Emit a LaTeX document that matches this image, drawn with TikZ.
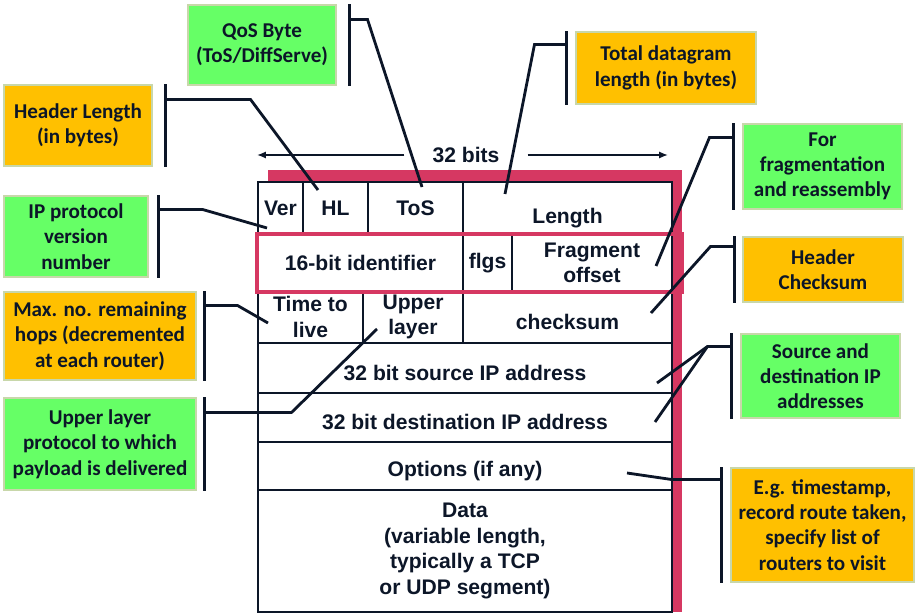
\documentclass[tikz,border=0pt]{standalone}
\usepackage{fontspec}
\setmainfont{Liberation Sans}
\newfontfamily\notefont{Carlito}
\usetikzlibrary{arrows.meta,positioning}
\definecolor{ipink}{RGB}{214,56,98}
\definecolor{igreen}{RGB}{102,255,102}
\definecolor{iorange}{RGB}{255,192,0}
\definecolor{iink}{RGB}{12,22,40}
\definecolor{iedge}{RGB}{200,215,170}

\begin{document}
\begin{tikzpicture}[
  x=0.02cm,y=-0.02cm,
  font=\fontsize{12}{14.5}\selectfont\bfseries,text=iink,
  cell/.style={draw=iink,fill=white,line width=1.1pt,inner sep=0pt,align=center},
  lowcell/.style={cell,text height=14pt},
  note/.style={draw=iedge,line width=0.6pt,inner sep=0pt,align=center,
               font=\notefont\fontsize{12}{14.4}\selectfont\bfseries},
  gnote/.style={note,fill=igreen},
  onote/.style={note,fill=iorange},
  bar/.style={draw=iink,line width=1.7pt},
  lead/.style={draw=iink,line width=1.6pt},
  dim/.style={-{Latex[length=5pt,width=4pt]},line width=0.9pt,draw=iink}
]
\useasboundingbox (0,0) rectangle (920,615);

\fill[ipink] (268,170) rectangle (682,612);

\node[cell,minimum width=0.9cm,minimum height=1.06cm] (ver) at (280.5,208.5) {Ver};
\node[cell,minimum width=1.3cm,minimum height=1.06cm] (hl) at (335.5,208.5) {HL};
\node[cell,minimum width=1.9cm,minimum height=1.06cm] (tos) at (415.5,208.5) {ToS};
\node[cell,text height=20pt,minimum width=4.18cm,minimum height=1.06cm] (len) at (567.5,208.5) {Length};
\node[cell,minimum width=4.1cm,minimum height=1.12cm] (ident) at (360.5,263) {16-bit identifier};
\node[cell,minimum width=0.98cm,minimum height=1.12cm] (flgs) at (487.5,263) {flgs};
\node[cell,minimum width=3.2cm,minimum height=1.12cm] (frag) at (592,263) {Fragment\\offset};
\node[cell,minimum width=2.1cm,minimum height=1.04cm] (ttl) at (310.5,317) {Time to\\live};
\node[cell,minimum width=2cm,minimum height=1.04cm] (upper) at (413,317) {Upper\\layer};
\node[lowcell,minimum width=4.18cm,minimum height=1.04cm] (csum) at (567.5,317) {checksum};
\node[lowcell,minimum width=8.28cm,minimum height=1cm] (src) at (465,368) {32 bit source IP address};
\node[lowcell,minimum width=8.28cm,minimum height=0.98cm] (dst) at (465,417.5) {32 bit destination IP address};
\node[lowcell,minimum width=8.28cm,minimum height=0.96cm] (opts) at (465,466) {Options (if any)};
\node[cell,minimum width=8.28cm,minimum height=2.44cm,font=\fontsize{12}{14.6}\selectfont\bfseries] (data) at (465,551)
  {Data\\(variable length,\\typically a TCP\\or UDP segment)};
\draw[ipink,line width=2.3pt] (ident.north west) rectangle ([xshift=0.18cm]frag.south east);

\node[inner xsep=0.56cm] (bits) at (466,155) {32 bits};
\coordinate (bitsL) at (257,155);
\coordinate (bitsR) at (668,155);
\draw[dim] (bits) -- (bitsL);
\draw[dim] (bits) -- (bitsR);

\node[gnote,minimum width=2.96cm,minimum height=1.6cm] (qos) at (262,45) {QoS Byte\\(ToS/DiffServe)};
\node[onote,minimum width=2.96cm,minimum height=1.62cm] (hlen) at (78,125.5) {Header Length\\(in bytes)};
\node[onote,minimum width=3.6cm,minimum height=1.44cm] (totlen) at (666,68) {Total datagram\\length (in bytes)};
\node[gnote,minimum width=3.18cm,minimum height=1.7cm] (fragnote) at (822.5,166.5) {For\\fragmentation\\and reassembly};
\node[gnote,minimum width=2.88cm,minimum height=1.62cm] (vernote) at (76,236.5) {IP protocol\\version\\number};
\node[onote,minimum width=3.2cm,minimum height=1.3cm] (cksnote) at (823,269.5) {Header\\Checksum};
\node[onote,minimum width=3.84cm,minimum height=1.76cm] (ttlnote) at (100,336) {Max. no. remaining\\hops (decremented\\at each router)};
\node[gnote,minimum width=3.18cm,minimum height=1.68cm] (addrnote) at (820.5,376) {Source and\\destination IP\\addresses};
\node[gnote,minimum width=3.84cm,minimum height=1.84cm] (protonote) at (100,444) {Upper layer\\protocol to which\\payload is delivered};
\node[onote,minimum width=3.66cm,minimum height=2.28cm] (optnote) at (822.5,525) {E.g. timestamp,\\record route taken,\\specify list of\\routers to visit};

\draw[bar] ([xshift=0.26cm]qos.north east) -- ([xshift=0.26cm]qos.south east);
\draw[bar] ([xshift=0.26cm]hlen.north east) -- ([xshift=0.26cm]hlen.south east);
\draw[bar] ([xshift=-0.18cm]totlen.north west) -- ([xshift=-0.18cm]totlen.south west);
\draw[bar] ([xshift=-0.18cm]fragnote.north west) -- ([xshift=-0.18cm]fragnote.south west);
\draw[bar] ([xshift=0.2cm]vernote.north east) -- ([xshift=0.2cm]vernote.south east);
\draw[bar] ([xshift=-0.16cm]cksnote.north west) -- ([xshift=-0.16cm]cksnote.south west);
\draw[bar] ([xshift=0.16cm]ttlnote.north east) -- ([xshift=0.16cm]ttlnote.south east);
\draw[bar] ([xshift=-0.18cm]addrnote.north west) -- ([xshift=-0.18cm]addrnote.south west);
\draw[bar] ([xshift=0.16cm]protonote.north east) -- ([xshift=0.16cm]protonote.south east);
\draw[bar] ([xshift=-0.18cm]optnote.north west) -- ([xshift=-0.18cm]optnote.south west);

\coordinate (tosPt) at (422,187);
\coordinate (hlPt) at (318,190);
\coordinate (lenPt) at (505,194);
\coordinate (fragPt) at (656,266);
\coordinate (verPt) at (267,228);
\coordinate (ckPt) at (651,313);
\coordinate (ttlPt) at (268,323);
\coordinate (srcPt) at (657,383);
\coordinate (dstPt) at (655,422);
\coordinate (protoPt) at (377,329);
\coordinate (optPt) at (627,473);

\draw[lead] ([xshift=0.26cm,yshift=-0.3cm]qos.north east) -- ++(18,0) -- (tosPt);
\draw[lead] ([xshift=0.26cm,yshift=-0.3cm]hlen.north east) -- ++(85,0) -- (hlPt);
\draw[lead] ([xshift=-0.18cm,yshift=-0.26cm]totlen.north west) -- ++(-32,0) -- (lenPt);
\draw[lead] ([xshift=-0.18cm,yshift=-0.28cm]fragnote.north west) -- ++(-24,0) -- (fragPt);
\draw[lead] ([xshift=0.2cm,yshift=-0.28cm]vernote.north east) -- ++(44,0) -- (verPt);
\draw[lead] ([xshift=-0.16cm,yshift=-0.2cm]cksnote.north west) -- ++(-24,0) -- (ckPt);
\draw[lead] ([xshift=0.16cm,yshift=-0.28cm]ttlnote.north east) -- ++(33,0) -- (ttlPt);
\draw[lead] ([xshift=-0.18cm,yshift=-0.26cm]addrnote.north west) -- ++(-24,0) coordinate (addrKnee) -- (srcPt);
\draw[lead] (addrKnee) -- (dstPt);
\draw[lead] ([xshift=0.16cm,yshift=-0.3cm]protonote.north east) -- ++(87,0) -- (protoPt);
\draw[lead] ([xshift=-0.18cm,yshift=-0.24cm]optnote.north west) -- ++(-50,0) -- (optPt);
\end{tikzpicture}
\end{document}
